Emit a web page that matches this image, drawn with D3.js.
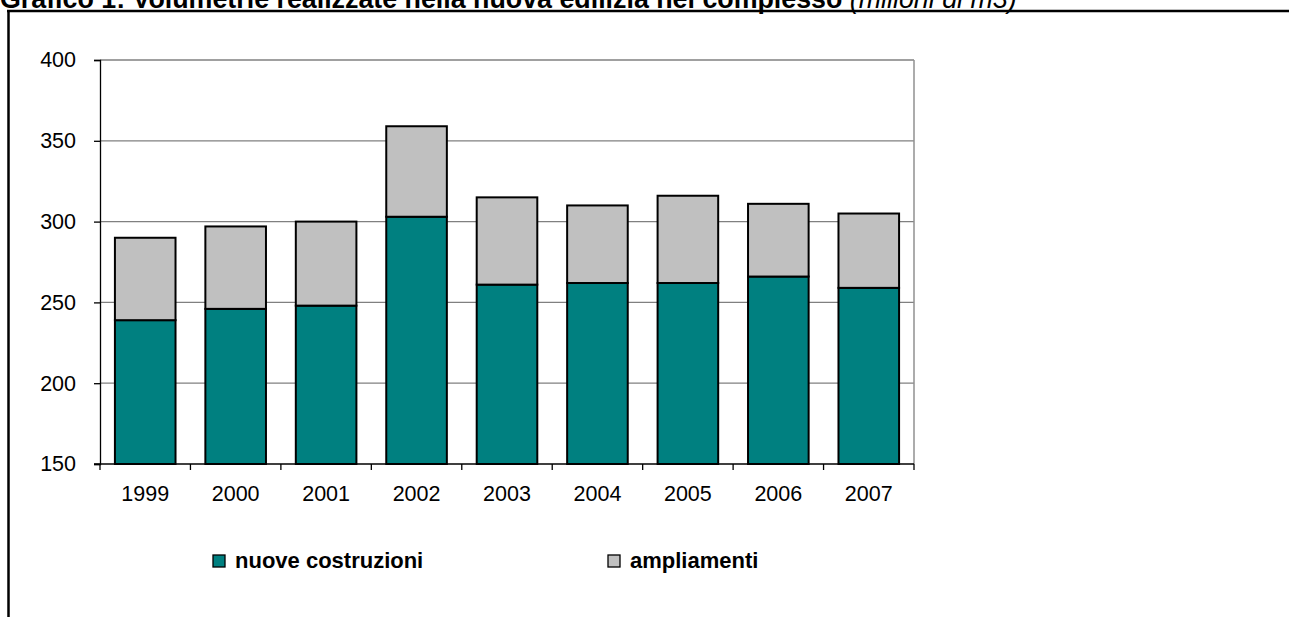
<!DOCTYPE html>
<html>
<head>
<meta charset="utf-8">
<script src="https://cdn.jsdelivr.net/npm/d3@7/dist/d3.min.js"></script>
<style>
  html, body { margin: 0; padding: 0; background: #fff; }
  svg { display: block; font-family: Arial, "Liberation Sans", sans-serif; }
</style>
</head>
<body>
<svg id="chart" width="1289" height="617"></svg>
<script>
// Volumetrie in milioni di m3, per anno
const anni = ["1999", "2000", "2001", "2002", "2003", "2004", "2005", "2006", "2007"];
const nuoveCostruzioni = [239, 246, 248, 303, 261, 262, 262, 266, 259];
const ampliamenti = [51, 51, 52, 56, 54, 48, 54, 45, 46];
const yTicks = [150, 200, 250, 300, 350, 400];
const serieNomi = ["nuove costruzioni", "ampliamenti"];
const serieColori = ["#008080", "#C0C0C0"];

const svg = d3.select("#chart");

// Title (sits on the top edge of the page)
const title = svg.append("text")
  .attr("x", 0).attr("y", 8)
  .attr("font-size", 26.8).attr("font-weight", "bold").attr("fill", "#000");
title.append("tspan").text("Grafico 1: Volumetrie realizzate nella nuova edilizia nel complesso ");
title.append("tspan").attr("font-weight", "normal").attr("font-style", "italic").text("(milioni di m3)");

// Outer frame: top rule and left rule
svg.append("line").attr("x1", 7).attr("x2", 1289).attr("y1", 11).attr("y2", 11)
  .attr("stroke", "#000").attr("stroke-width", 2.5);
svg.append("line").attr("x1", 8.5).attr("x2", 8.5).attr("y1", 10).attr("y2", 617)
  .attr("stroke", "#000").attr("stroke-width", 2.5);

const plot = { left: 100, right: 914, top: 60, bottom: 464 };

const x = d3.scaleBand().domain(anni).range([plot.left, plot.right]).paddingInner(0.33).paddingOuter(0.165);
const xEdges = d3.scaleBand().domain(anni).range([plot.left, plot.right]).padding(0);
const y = d3.scaleLinear().domain([150, 400]).range([plot.bottom, plot.top]);

// Gridlines
svg.append("g").selectAll("line").data(yTicks.slice(1)).join("line")
  .attr("x1", plot.left).attr("x2", plot.right)
  .attr("y1", d => y(d)).attr("y2", d => y(d))
  .attr("stroke", "#808080").attr("stroke-width", 1.3);

// Plot area border (right edge)
svg.append("line").attr("x1", plot.right).attr("x2", plot.right)
  .attr("y1", plot.top).attr("y2", plot.bottom)
  .attr("stroke", "#909090").attr("stroke-width", 1.5);

// Stacked bars
const rows = anni.map((a, i) => ({ anno: a, nuove: nuoveCostruzioni[i], ampl: ampliamenti[i] }));
const stack = d3.stack().keys(["nuove", "ampl"]).offset(d3.stackOffsetNone);
const stacked = stack(rows);

svg.append("g").selectAll("g").data(stacked).join("g")
  .attr("fill", (d, i) => serieColori[i])
  .selectAll("rect").data(d => d).join("rect")
  .attr("x", d => x(d.data.anno))
  .attr("width", x.bandwidth())
  .attr("y", d => y(d[1]))
  .attr("height", d => y(Math.max(d[0], 150)) - y(d[1]))
  .attr("stroke", "#000").attr("stroke-width", 2);

// Y axis
const yAxis = svg.append("g").attr("transform", `translate(${plot.left},0)`)
  .call(d3.axisLeft(y).tickValues(yTicks).tickSize(6).tickPadding(18).tickFormat(d3.format("d")));
yAxis.select(".domain").attr("stroke", "#000").attr("stroke-width", 1.3);
yAxis.selectAll(".tick line").attr("stroke", "#000").attr("stroke-width", 1.3);
yAxis.selectAll("text").attr("font-size", 21.5).attr("fill", "#000")
  .attr("font-family", "Arial, 'Liberation Sans', sans-serif");

// X axis line and ticks at category boundaries
const xg = svg.append("g");
xg.append("line").attr("x1", plot.left - 6).attr("x2", plot.right)
  .attr("y1", plot.bottom).attr("y2", plot.bottom)
  .attr("stroke", "#000").attr("stroke-width", 1.3);
const edges = anni.map(a => xEdges(a)).concat([plot.right]);
xg.selectAll("line.tk").data(edges).join("line").attr("class", "tk")
  .attr("x1", d => d).attr("x2", d => d)
  .attr("y1", plot.bottom).attr("y2", plot.bottom + 6)
  .attr("stroke", "#000").attr("stroke-width", 1.3);
xg.selectAll("text").data(anni).join("text")
  .attr("x", d => xEdges(d) + xEdges.bandwidth() / 2)
  .attr("y", 501)
  .attr("text-anchor", "middle")
  .attr("font-size", 21.5).attr("fill", "#000")
  .text(d => d);

// Legend
const legendX = [213, 608];
const leg = svg.append("g").selectAll("g").data(serieNomi).join("g")
  .attr("transform", (d, i) => `translate(${legendX[i]},555)`);
leg.append("rect").attr("width", 12).attr("height", 12)
  .attr("fill", (d, i) => serieColori[i]).attr("stroke", "#000").attr("stroke-width", 1.3);
leg.append("text").attr("x", 22).attr("y", 12.5)
  .attr("font-size", 22).attr("font-weight", "bold").attr("fill", "#000")
  .text(d => d);
</script>
</body>
</html>
